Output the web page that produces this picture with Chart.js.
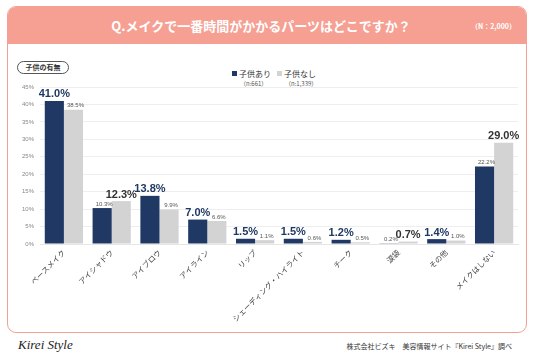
<!DOCTYPE html>
<html>
<head>
<meta charset="utf-8">
<script src="https://cdn.jsdelivr.net/npm/chart.js@4.4.1/dist/chart.umd.min.js"></script>
<style>
html,body{margin:0;padding:0;background:#fff;}
body{width:536px;height:357px;position:relative;overflow:hidden;font-family:"Noto Sans CJK JP","Noto Sans",sans-serif;}
#frame{position:absolute;left:7px;top:6px;width:518px;height:325px;border:1.5px solid #F4A093;border-radius:9px;overflow:hidden;background:#fff;}
#header{position:absolute;left:0;top:0;width:100%;height:37px;background:#F5A093;}
#title{position:absolute;left:0;top:0;width:506px;height:37px;line-height:37px;text-align:center;color:#fff;font-weight:bold;font-size:13px;}
#nlab{position:absolute;right:10px;top:0;height:37px;line-height:38px;color:#fff;font-weight:bold;font-size:7px;}
#pill{position:absolute;left:17px;top:61px;width:50px;height:11px;border:1px solid #555;border-radius:7px;font-size:7px;font-weight:bold;color:#333;text-align:center;line-height:11px;}
.leg{position:absolute;top:69px;font-size:8px;color:#333;line-height:10px;}
.leg .sq{display:inline-block;width:5px;height:5px;margin-right:2px;vertical-align:1px;}
.leg .n{display:block;font-size:6px;color:#555;padding-left:8px;line-height:9px;}
#c{position:absolute;left:8px;top:42px;}
#logo{position:absolute;left:18px;top:337px;font-family:"Liberation Serif",serif;font-style:italic;font-size:13px;color:#222;}
#src{position:absolute;right:24px;top:341px;font-size:7px;color:#333;}
</style>
</head>
<body>
<div id="frame"><div id="header"></div><div id="title">Q.メイクで一番時間がかかるパーツはどこですか？</div><div id="nlab">（N：2,000）</div></div>
<div id="pill">子供の有無</div>
<div class="leg" style="left:232px;"><span class="sq" style="background:#1F3864"></span>子供あり<span class="n">（n:661）</span></div>
<div class="leg" style="left:277px;"><span class="sq" style="background:#D3D3D3"></span>子供なし<span class="n">（n:1,339）</span></div>
<canvas id="c" width="519" height="290"></canvas>
<div id="logo">Kirei Style</div>
<div id="src">株式会社ビズキ　美容情報サイト『Kirei Style』調べ</div>
<script>
const categories = ["ベースメイク","アイシャドウ","アイブロウ","アイライン","リップ","シェーディング・ハイライト","チーク","涙袋","その他","メイクはしない"];
const withKids = [41.0,10.3,13.8,7.0,1.5,1.5,1.2,0.2,1.4,22.2];
const withoutKids = [38.5,12.3,9.9,6.6,1.1,0.6,0.5,0.7,1.0,29.0];
const seriesNames = ["子供あり","子供なし"];
const yTicks = [0,5,10,15,20,25,30,35,40,45];

const FONT = '"Noto Sans CJK JP","Noto Sans",sans-serif';
const labelPlugin = {
  id:'vlabels',
  afterDatasetsDraw(chart){
    const ctx = chart.ctx;
    const d0 = chart.data.datasets[0].data, d1 = chart.data.datasets[1].data;
    chart.data.datasets.forEach((ds,i)=>{
      const meta = chart.getDatasetMeta(i);
      meta.data.forEach((bar,j)=>{
        const v = ds.data[j];
        const other = i===0 ? d1[j] : d0[j];
        const big = v > other;
        ctx.save();
        ctx.textAlign='center';
        ctx.textBaseline='bottom';
        if(big){
          ctx.font = 'bold 11px "Liberation Sans",Arial,sans-serif';
          ctx.fillStyle = i===0 ? '#1F3864' : '#333333';
          ctx.fillText(v.toFixed(1)+'%', bar.x, bar.y-1);
        } else {
          ctx.font = '6px "Liberation Sans",Arial,sans-serif';
          ctx.fillStyle = '#555';
          ctx.fillText(v.toFixed(1)+'%', bar.x+2, bar.y-1);
        }
        ctx.restore();
      });
    });
  }
};

new Chart(document.getElementById('c'),{
  type:'bar',
  data:{
    labels:categories,
    datasets:[
      {label:seriesNames[0],data:withKids,backgroundColor:'#1F3864',categoryPercentage:0.8,barPercentage:1.0},
      {label:seriesNames[1],data:withoutKids,backgroundColor:'#D3D3D3',categoryPercentage:0.8,barPercentage:1.0}
    ]
  },
  options:{
    responsive:false,
    animation:false,
    layout:{padding:{left:4,right:9,top:45,bottom:0}},
    plugins:{legend:{display:false},tooltip:{enabled:false}},
    scales:{
      x:{
        grid:{display:false,drawTicks:false},
        border:{display:true,color:'#e6e6e6'},
        ticks:{minRotation:45,maxRotation:45,autoSkip:false,padding:4,color:'#444',font:{family:FONT,size:7.5}},
        afterFit(s){s.height=88;}
      },
      y:{
        min:0,max:45,
        afterBuildTicks(s){s.ticks = yTicks.map(v=>({value:v}));},
        grid:{color:'#eeeeee',drawTicks:false},
        border:{display:false},
        ticks:{padding:6,color:'#888',font:{family:'"Liberation Sans",Arial,sans-serif',size:6},callback:v=>v+'%'},
        afterFit(s){s.width=28;}
      }
    }
  },
  plugins:[labelPlugin]
});
</script>
</body>
</html>
